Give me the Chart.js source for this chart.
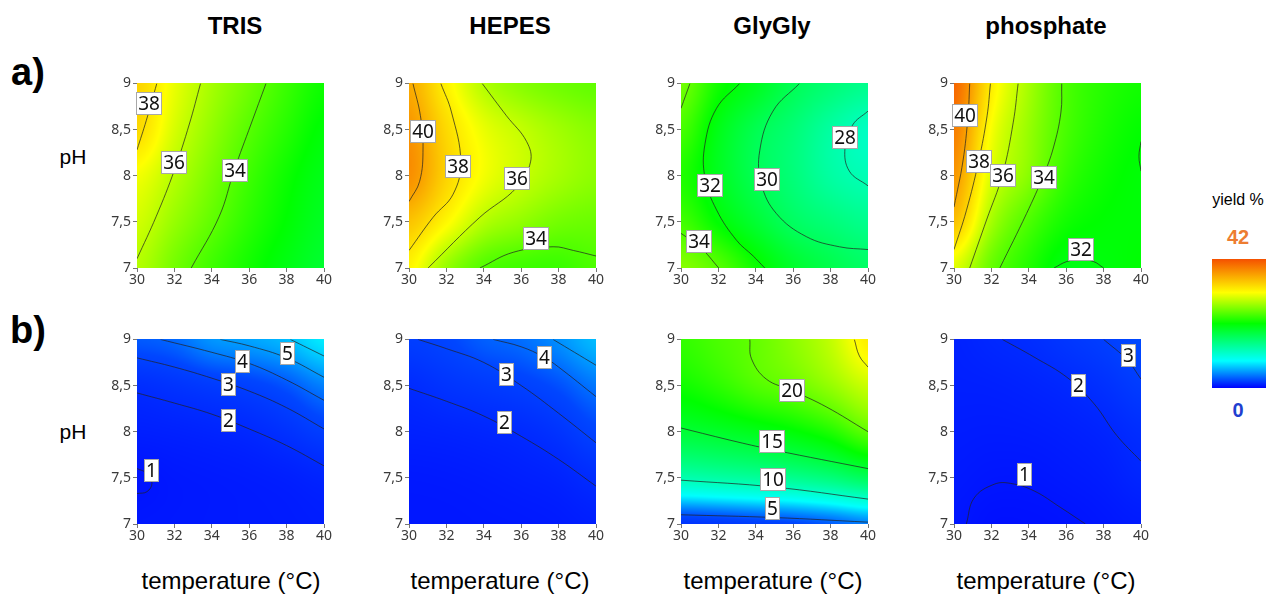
<!DOCTYPE html>
<html>
<head>
<meta charset="utf-8">
<title>yield contour plots</title>
<script src="https://cdn.jsdelivr.net/npm/chart.js@4.4.1/dist/chart.umd.min.js"></script>
<style>
  body { margin: 0; background: #fff; }
  #page { position: relative; width: 1266px; height: 596px; overflow: hidden; font-family: Arial, "Liberation Sans", sans-serif; color: #000; }
  #page canvas { position: absolute; }
  .txt { position: absolute; transform: translate(-50%, -50%); white-space: nowrap; }
  .title { font-weight: bold; font-size: 24px; top: 26px; }
  .row { font-weight: bold; font-size: 38px; left: 28px; }
  .ph { font-size: 21px; left: 73px; }
  .xlab { font-size: 24px; top: 581px; }
  #bar { position: absolute; left: 1212px; top: 259px; width: 60px; height: 129px;
         background: linear-gradient(to top, #0000ff 0%, #00ffff 21%, #00ff00 50%, #ffff00 74%, #f55000 100%); }
</style>
</head>
<body>
<div id="page">
  <div class="txt row" style="top:72px">a)</div>
  <div class="txt row" style="top:330px">b)</div>
  <div class="txt ph" style="top:157px">pH</div>
  <div class="txt ph" style="top:432px">pH</div>
  <div class="txt" style="left:1238px; top:200px; font-size:16px">yield %</div>
  <div class="txt" style="left:1238px; top:237px; font-size:20px; font-weight:bold; color:#ed7d31">42</div>
  <div id="bar"></div>
  <div class="txt" style="left:1238px; top:410px; font-size:20px; font-weight:bold; color:#1f3fd0">0</div>
</div>
<script>
// axes
const temps = [30, 32, 34, 36, 38, 40];
const tempLabels = ['30', '32', '34', '36', '38', '40'];
const pHs = [7, 7.5, 8, 8.5, 9];
const pHLabels = ['7', '7,5', '8', '8,5', '9'];
const buffers = ['TRIS', 'HEPES', 'GlyGly', 'phosphate'];

// yield %, rows = pH 7 .. 9, columns = 30 .. 40 °C
const trisA = [
  [35.9, 34.6, 33.5, 32.6, 31.8, 31.1],
  [36.5, 35.3, 34.2, 33.1, 32.2, 31.4],
  [37.2, 35.95, 34.7, 33.5, 32.5, 31.7],
  [38.6, 36.6, 35.2, 34.0, 33.0, 32.1],
  [38.8, 37.0, 35.6, 34.5, 33.4, 32.5]
];
const hepesA = [
  [37.7, 35.3, 33.9, 33.5, 33.4, 33.8],
  [39.3, 37.6, 35.9, 35.2, 34.6, 34.4],
  [41.0, 38.8, 37.2, 36.3, 35.6, 35.1],
  [40.8, 38.6, 37.0, 36.2, 35.5, 35.0],
  [40.1, 37.8, 35.9, 35.0, 34.5, 34.2]
];
const glyglyA = [
  [35.0, 34.0, 32.5, 31.2, 30.4, 29.8],
  [33.6, 32.2, 31.0, 29.9, 29.3, 28.8],
  [32.9, 31.5, 30.2, 29.3, 28.3, 27.8],
  [33.7, 31.7, 30.3, 29.4, 28.3, 27.5],
  [34.6, 32.6, 31.5, 30.2, 29.4, 28.8]
];
const phosphateA = [
  [36.8, 34.3, 32.9, 31.8, 31.95, 32.2],
  [39.4, 35.6, 33.8, 32.6, 32.2, 32.1],
  [40.7, 36.7, 35.0, 33.3, 32.5, 32.1],
  [41.6, 37.3, 35.3, 33.7, 32.8, 32.3],
  [42.3, 38.0, 35.6, 33.8, 33.0, 32.6]
];
const trisB = [
  [1.1, 1.15, 1.2, 1.25, 1.3, 1.4],
  [0.95, 1.15, 1.25, 1.35, 1.5, 1.75],
  [1.5, 1.6, 1.75, 1.95, 2.4, 3.0],
  [2.2, 2.5, 2.85, 3.15, 3.7, 4.6],
  [3.8, 4.1, 5.0, 5.3, 5.8, 6.8]
];
const hepesB = [
  [1.1, 1.1, 1.15, 1.2, 1.3, 1.5],
  [1.2, 1.25, 1.35, 1.5, 1.7, 2.15],
  [1.6, 1.7, 1.85, 2.05, 2.5, 3.25],
  [2.1, 2.5, 2.8, 3.1, 3.6, 4.4],
  [2.95, 3.3, 3.9, 4.2, 4.9, 5.8]
];
const glyglyB = [
  [2.5, 2.7, 3.0, 3.3, 3.8, 4.5],
  [10.2, 10.6, 11.0, 11.5, 12.3, 13.5],
  [14.9, 15.4, 16.0, 16.8, 18.0, 20.0],
  [17.5, 18.4, 19.6, 20.4, 21.8, 23.5],
  [18.6, 19.4, 20.2, 21.5, 23.2, 26.0]
];
const phosphateB = [
  [1.05, 0.8, 0.8, 0.9, 1.1, 1.3],
  [1.2, 1.05, 1.05, 1.2, 1.4, 1.8],
  [1.35, 1.3, 1.35, 1.5, 1.75, 2.2],
  [1.5, 1.55, 1.7, 1.95, 2.35, 2.9],
  [1.6, 1.9, 2.15, 2.6, 3.0, 3.5]
];

// contour lines [temperature, pH]
const trisAContours = [
  [[30, 8.28], [30.5, 8.6], [31.06, 9]],
  [[30, 7.10], [31.03, 7.56], [32, 8.06], [32.8, 8.56], [33.4, 9]],
  [[32.9, 7], [34.4, 7.56], [35.2, 8.06], [36.1, 8.56], [36.9, 9]]
];
const hepesAContours = [
  [[30.21, 9], [30.61, 8.65], [30.75, 8.30], [30.57, 7.94], [30, 7.72]],
  [[31.7, 9], [32.27, 8.69], [32.77, 8.15], [32.36, 7.80], [31.29, 7.55], [30, 7.19]],
  [[33.91, 9], [35.21, 8.65], [36.29, 8.37], [36.5, 8.15], [35.75, 7.87], [33.79, 7.55], [31.02, 7]],
  [[33.79, 7], [35.57, 7.17], [37.71, 7.23], [38.79, 7.19], [40, 7.13]]
];
const glyglyAContours = [
  [[30, 8.73], [30.48, 9]],
  [[30, 7.375], [31.01, 7.23], [32.02, 7]],
  [[33.14, 9], [31.9, 8.73], [31.28, 8.34], [31.28, 7.98], [31.9, 7.63], [32.97, 7.30], [33.86, 7.13], [34.48, 7]],
  [[36.34, 9], [34.92, 8.70], [34.21, 8.27], [34.30, 7.91], [35.10, 7.59], [36.70, 7.34], [38.47, 7.23], [40, 7.20]],
  [[40, 8.70], [39.18, 8.55], [38.77, 8.30], [39.0, 8.05], [40, 7.89]]
];
const phosphateAContours = [
  [[30.84, 9], [30.75, 8.65], [30.48, 8.16], [30, 7.66]],
  [[31.95, 9], [31.77, 8.65], [31.32, 8.16], [30.66, 7.62], [30, 7.20]],
  [[33.43, 9], [33.17, 8.58], [32.59, 8.01], [31.74, 7.52], [30.84, 7]],
  [[35.76, 9], [35.72, 8.69], [35.31, 8.30], [34.78, 8.0], [33.88, 7.59], [32.45, 7]],
  [[35.35, 7], [36.03, 7.07], [36.74, 7.09], [37.46, 7.07], [38, 7]],
  [[40, 8.37], [39.89, 8.21], [40, 8.05]]
];
const trisBContours = [
  [[30, 7.60], [30.53, 7.55], [30.8, 7.44], [30.53, 7.35], [30, 7.33]],
  [[30, 8.42], [32, 8.31], [34, 8.19], [36, 8.03], [38, 7.85], [40, 7.63]],
  [[30, 8.80], [32, 8.70], [34, 8.58], [36, 8.44], [38, 8.26], [40, 8.03]],
  [[31.25, 9], [34, 8.86], [36, 8.74], [38, 8.56], [40, 8.34]],
  [[34.45, 9], [36, 8.93], [38, 8.80], [40, 8.59]],
  [[38.2, 9], [40, 8.82]]
];
const hepesBContours = [
  [[30, 8.47], [32, 8.33], [34, 8.17], [36, 7.95], [38, 7.70], [40, 7.41]],
  [[30.48, 9], [32, 8.90], [34, 8.75], [36, 8.50], [38, 8.20], [40, 7.88]],
  [[34.5, 9], [36, 8.92], [37.2, 8.81], [38, 8.70], [40, 8.38]],
  [[37.7, 9], [40, 8.72]]
];
const glyglyBContours = [
  [[30, 7.10], [35, 7.07], [40, 7.02]],
  [[30, 7.475], [35, 7.40], [40, 7.27]],
  [[30, 8.04], [33, 7.89], [35, 7.80], [40, 7.60]],
  [[33.68, 9], [33.77, 8.79], [34.56, 8.57], [35.9, 8.45], [37.76, 8.27], [40, 8.0]],
  [[39.27, 9], [39.54, 8.82], [40, 8.70]]
];
const phosphateBContours = [
  [[30.66, 7], [31.07, 7.28], [32.14, 7.43], [33.02, 7.44], [34.27, 7.36], [35.69, 7.18], [37.03, 7]],
  [[32.58, 9], [34.27, 8.81], [36.1, 8.58], [37.5, 8.30], [38.7, 7.96], [40, 7.68]],
  [[38.0, 9], [39.25, 8.78], [40, 8.57]]
];

// contour labels [temperature, pH, text]
const trisALabels = [[30.6, 8.79, '38'], [31.97, 8.15, '36'], [35.2, 8.06, '34']];
const hepesALabels = [[30.71, 8.48, '40'], [32.57, 8.1, '38'], [35.75, 7.97, '36'], [36.75, 7.33, '34']];
const glyglyALabels = [[38.77, 8.42, '28'], [34.56, 7.96, '30'], [31.51, 7.90, '32'], [30.96, 7.29, '34']];
const phosphateALabels = [[30.57, 8.66, '40'], [31.32, 8.16, '38'], [32.59, 8.01, '36'], [34.78, 7.99, '34'], [36.74, 7.21, '32']];
const trisBLabels = [[30.75, 7.58, '1'], [34.86, 8.13, '2'], [34.86, 8.52, '3'], [35.6, 8.77, '4'], [38.0, 8.85, '5']];
const hepesBLabels = [[35.09, 8.11, '2'], [35.21, 8.63, '3'], [37.21, 8.81, '4']];
const glyglyBLabels = [[35.9, 8.45, '20'], [34.83, 7.90, '15'], [34.88, 7.49, '10'], [34.88, 7.17, '5']];
const phosphateBLabels = [[33.74, 7.54, '1'], [36.62, 8.51, '2'], [39.31, 8.83, '3']];

// layout / colour scale
const plotLeft = [137, 409, 681, 954];
const plotTop = [81, 337];
const titleX = [235, 510, 772, 1046];
const xLabelX = [231, 500, 773, 1046];
const rowRange = [[21.5, 43], [0, 34]];
const colorStops = [[0, [0, 0, 255]], [0.1, [0, 70, 255]], [0.21, [0, 255, 255]], [0.5, [0, 255, 0]], [0.74, [255, 255, 0]], [1, [245, 80, 0]]];

const panels = [
  [trisA, trisAContours, trisALabels], [hepesA, hepesAContours, hepesALabels],
  [glyglyA, glyglyAContours, glyglyALabels], [phosphateA, phosphateAContours, phosphateALabels],
  [trisB, trisBContours, trisBLabels], [hepesB, hepesBContours, hepesBLabels],
  [glyglyB, glyglyBContours, glyglyBLabels], [phosphateB, phosphateBContours, phosphateBLabels]
];

function colorAt(t) {
  t = Math.max(0, Math.min(1, t));
  for (let k = 1; k < colorStops.length; k++) {
    const [t1, c1] = colorStops[k];
    const [t0, c0] = colorStops[k - 1];
    if (t <= t1) {
      const f = (t - t0) / (t1 - t0);
      return [0, 1, 2].map(n => Math.round(c0[n] + (c1[n] - c0[n]) * f));
    }
  }
  return colorStops[colorStops.length - 1][1];
}

function cubic(p0, p1, p2, p3, t) {
  return p1 + 0.5 * t * (p2 - p0 + t * (2 * p0 - 5 * p1 + 4 * p2 - p3 + t * (3 * (p1 - p2) + p3 - p0)));
}

// smooth sample of the grid (catmull-rom in both directions)
function sampleGrid(grid, u, v) {
  const rows = grid.length, cols = grid[0].length;
  const cl = (a, n) => Math.max(0, Math.min(n - 1, a));
  const i = Math.max(0, Math.min(Math.floor(u), cols - 2)), fx = u - i;
  const j = Math.max(0, Math.min(Math.floor(v), rows - 2)), fy = v - j;
  const rowVal = r => cubic(grid[r][cl(i - 1, cols)], grid[r][i], grid[r][i + 1], grid[r][cl(i + 2, cols)], fx);
  return cubic(rowVal(cl(j - 1, rows)), rowVal(j), rowVal(j + 1), rowVal(cl(j + 2, rows)), fy);
}

function heatmapPlugin(grid, range) {
  return {
    id: 'heatmap',
    beforeDatasetsDraw(chart) {
      const { ctx, chartArea: a, scales: { x, y } } = chart;
      const w = Math.round(a.right - a.left), h = Math.round(a.bottom - a.top);
      const off = document.createElement('canvas');
      off.width = w; off.height = h;
      const octx = off.getContext('2d');
      const img = octx.createImageData(w, h);
      for (let py = 0; py < h; py++) {
        const pH = y.getValueForPixel(a.top + py + 0.5);
        const v = (pH - pHs[0]) / (pHs[1] - pHs[0]);
        for (let px = 0; px < w; px++) {
          const T = x.getValueForPixel(a.left + px + 0.5);
          const u = (T - temps[0]) / (temps[1] - temps[0]);
          const val = sampleGrid(grid, u, v);
          const c = colorAt((val - range[0]) / (range[1] - range[0]));
          const k = (py * w + px) * 4;
          img.data[k] = c[0]; img.data[k + 1] = c[1]; img.data[k + 2] = c[2]; img.data[k + 3] = 255;
        }
      }
      octx.putImageData(img, 0, 0);
      ctx.drawImage(off, a.left, a.top, w, h);
    }
  };
}

function labelPlugin(labels) {
  return {
    id: 'contourLabels',
    afterDatasetsDraw(chart) {
      const { ctx, scales: { x, y } } = chart;
      ctx.save();
      ctx.font = '19px "Noto Sans", sans-serif';
      ctx.textAlign = 'center';
      ctx.textBaseline = 'middle';
      labels.forEach(([T, pH, text]) => {
        const cx = x.getPixelForValue(T), cy = y.getPixelForValue(pH);
        const bw = Math.round(ctx.measureText(text).width + 3), bh = 22;
        const bx = Math.round(cx - bw / 2), by = Math.round(cy - bh / 2);
        ctx.fillStyle = '#ffffff';
        ctx.fillRect(bx, by, bw, bh);
        ctx.strokeStyle = '#a8a8a8';
        ctx.lineWidth = 1;
        ctx.strokeRect(bx + 0.5, by + 0.5, bw, bh);
        ctx.fillStyle = '#111';
        ctx.fillText(text, bx + bw / 2 + 0.5, by + bh / 2 + 1.5);
      });
      ctx.restore();
    }
  };
}

const page = document.getElementById('page');

buffers.forEach((name, col) => {
  const t = document.createElement('div');
  t.className = 'txt title';
  t.style.left = titleX[col] + 'px';
  t.textContent = name;
  page.appendChild(t);
  const xl = document.createElement('div');
  xl.className = 'txt xlab';
  xl.style.left = xLabelX[col] + 'px';
  xl.textContent = 'temperature (°C)';
  page.appendChild(xl);
});

panels.forEach(([grid, contours, labels], idx) => {
  const row = Math.floor(idx / 4), col = idx % 4;
  const canvas = document.createElement('canvas');
  canvas.width = 231; canvas.height = 221;
  canvas.style.left = (plotLeft[col] - 30) + 'px';
  canvas.style.top = (plotTop[row] - 8) + 'px';
  page.appendChild(canvas);

  new Chart(canvas.getContext('2d'), {
    type: 'scatter',
    data: {
      datasets: contours.map(line => ({
        data: line.map(p => ({ x: p[0], y: p[1] })),
        showLine: true,
        borderColor: 'rgba(35,35,35,0.8)',
        borderWidth: 0.9,
        pointRadius: 0,
        tension: 0.4
      }))
    },
    options: {
      responsive: false,
      animation: false,
      events: [],
      layout: { padding: { top: 8, right: 14, left: 0, bottom: 0 } },
      plugins: { legend: { display: false }, tooltip: { enabled: false } },
      scales: {
        x: {
          type: 'linear', min: 30, max: 40,
          afterBuildTicks: s => { s.ticks = temps.map(v => ({ value: v })); },
          afterFit: s => { s.height = 26; },
          ticks: {
            callback: v => tempLabels[temps.indexOf(v)],
            color: '#3a3a3a', padding: 0, maxRotation: 0,
            font: { family: '"Noto Sans", sans-serif', size: 14 }
          },
          grid: { drawOnChartArea: false, tickLength: 4, color: '#777' },
          border: { display: false }
        },
        y: {
          type: 'linear', min: 7, max: 9,
          afterBuildTicks: s => { s.ticks = pHs.map(v => ({ value: v })); },
          afterFit: s => { s.width = 30; },
          ticks: {
            callback: v => pHLabels[pHs.indexOf(v)],
            color: '#3a3a3a', padding: 2,
            font: { family: '"Noto Sans", sans-serif', size: 14 }
          },
          grid: { drawOnChartArea: false, tickLength: 4, color: '#777' },
          border: { display: false }
        }
      }
    },
    plugins: [heatmapPlugin(grid, rowRange[row]), labelPlugin(labels)]
  });
});
</script>
</body>
</html>
